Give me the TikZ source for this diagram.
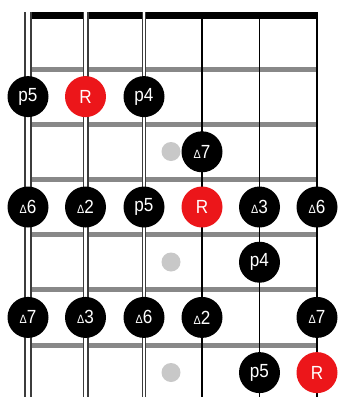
\documentclass[tikz,border=0pt]{standalone}
\usepackage{fontspec}
\setmainfont{Liberation Sans}
\newfontfamily\notefont[FakeStretch=0.9]{Liberation Sans}
\definecolor{fretgray}{RGB}{136,136,136}
\definecolor{strgray}{RGB}{60,60,60}
\definecolor{dotgray}{RGB}{200,200,200}
\definecolor{rootred}{RGB}{236,22,26}
\newcommand\mytri{{\fontsize{12}{12}\selectfont Δ}}
\tikzset{
  note/.style={circle, fill=black, text=white, minimum size=41pt, inner sep=0pt,
    font=\notefont\fontsize{19}{19}\selectfont},
  rootnote/.style={note, fill=rootred},
  marker/.style={circle, fill=dotgray, minimum size=19pt, inner sep=0pt},
  fretbar/.style={fretgray, line width=5pt},
  thinstring/.style={black, line width=1.6pt},
}
\begin{document}
\begin{tikzpicture}[x=1pt,y=-1pt]
\useasboundingbox (0,0) rectangle (339,397);
\fill[white] (0,0) rectangle (339,397);
% nut
\fill[black] (30,12) rectangle (317,18.5);
% frets
\foreach \y in {69,124.2,179.4,234.6,289.8,345}
  \draw[fretbar] (30,\y) -- (317,\y);
% wound strings (double)
\draw[strgray, line width=8pt] (28,12) -- (28,397);
\draw[white, line width=4pt] (28,12) -- (28,397);
\draw[strgray, line width=6pt] (85.5,12) -- (85.5,397);
\draw[white, line width=2.6pt] (85.5,12) -- (85.5,397);
\draw[strgray, line width=4.6pt] (144,12) -- (144,397);
\draw[white, line width=1.6pt] (144,12) -- (144,397);
% plain strings
\draw[thinstring] (202,12) -- (202,397);
\draw[thinstring] (259.5,12) -- (259.5,397);
\draw[thinstring] (317,12) -- (317,397);
% position markers
\node[marker] (g1) at (171,151.5) {};
\node[marker] (g2) at (171,262) {};
\node[marker] (g3) at (171,372.5) {};
% row 1
\node[note] (a1) at (28,96.6) {p5};
\node[rootnote] (a2) at (85.5,96.6) {R};
\node[note] (a3) at (144,96.6) {p4};
% row 2
\node[note] (b4) at (202,151.8) {\mytri7};
% row 3
\node[note] (c1) at (28,207) {\mytri6};
\node[note] (c2) at (85.5,207) {\mytri2};
\node[note] (c3) at (144,207) {p5};
\node[rootnote] (c4) at (202,207) {R};
\node[note] (c5) at (259.5,207) {\mytri3};
\node[note] (c6) at (317,207) {\mytri6};
% row 4
\node[note] (d5) at (259.5,262.2) {p4};
% row 5
\node[note] (e1) at (28,317.4) {\mytri7};
\node[note] (e2) at (85.5,317.4) {\mytri3};
\node[note] (e3) at (144,317.4) {\mytri6};
\node[note] (e4) at (202,317.4) {\mytri2};
\node[note] (e6) at (317,317.4) {\mytri7};
% row 6
\node[note] (f5) at (259.5,372.6) {p5};
\node[rootnote] (f6) at (317,372.6) {R};
\end{tikzpicture}
\end{document}
